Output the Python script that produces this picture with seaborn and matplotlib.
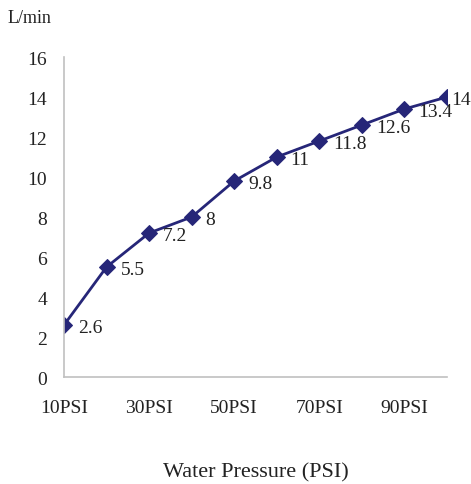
import pandas as pd
import matplotlib
matplotlib.use("Agg")
import matplotlib.pyplot as plt
import seaborn as sns

pressure = [10, 20, 30, 40, 50, 60, 70, 80, 90, 100]
flow = [2.6, 5.5, 7.2, 8, 9.8, 11, 11.8, 12.6, 13.4, 14]
flow_labels = ["2.6", "5.5", "7.2", "8", "9.8", "11", "11.8", "12.6", "13.4", "14"]
x_tick_labels = ["10PSI", "", "30PSI", "", "50PSI", "", "70PSI", "", "90PSI", ""]
y_ticks = [0, 2, 4, 6, 8, 10, 12, 14, 16]

df = pd.DataFrame({"pressure": pressure, "flow": flow})

sns.set_style("white")
plt.rcParams["font.family"] = ["Liberation Serif", "DejaVu Serif"]

line_color = "#262678"
axis_color = "#c0c0c0"

fig = plt.figure(figsize=(4.71, 4.85), dpi=100)
ax = fig.add_axes([0.1359, 0.2206, 0.8131, 0.6598])

sns.lineplot(data=df, x="pressure", y="flow", ax=ax, color=line_color,
             linewidth=2, marker="D", markersize=8, markeredgecolor=line_color)

for i, (x, y, lab) in enumerate(zip(pressure, flow, flow_labels)):
    # the last label sits tight against its marker so it fits the figure
    dx = 3 if i == len(pressure) - 1 else 10
    ax.annotate(lab, (x, y), xytext=(dx, -1.5), textcoords="offset points",
                ha="left", va="center", fontsize=14, color="#222222",
                annotation_clip=False)

ax.set_xlim(10, 100)
ax.set_ylim(0, 16)
ax.set_xticks(pressure)
ax.set_xticklabels(x_tick_labels)
ax.set_yticks(y_ticks)
ax.set_xlabel("Water Pressure (PSI)", fontsize=16, labelpad=33, color="#222222")
ax.set_ylabel("")

for side in ["top", "right"]:
    ax.spines[side].set_visible(False)
for side in ["left", "bottom"]:
    ax.spines[side].set_color(axis_color)
    ax.spines[side].set_linewidth(1.2)

ax.tick_params(axis="both", direction="in", length=6, width=1, color=axis_color,
               labelsize=14, labelcolor="#222222")
ax.tick_params(axis="y", pad=12)
ax.tick_params(axis="x", pad=16)

fig.text(0.017, 0.962, "L/min", fontsize=13, ha="left", va="center", color="#222222")

plt.savefig("out.png", dpi=100)
plt.close()
